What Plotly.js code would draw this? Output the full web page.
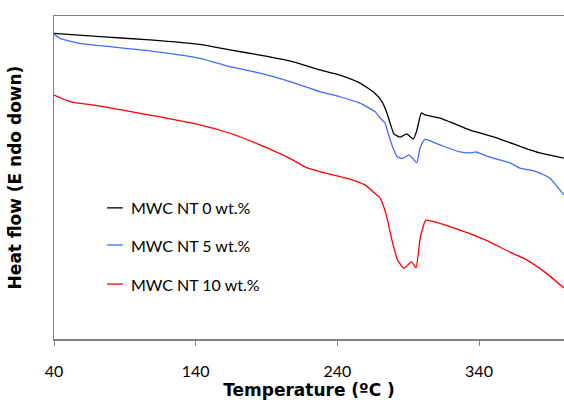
<!DOCTYPE html>
<html>
<head>
<meta charset="utf-8">
<script src="https://cdn.plot.ly/plotly-3.0.1.min.js"></script>
<style>html,body{margin:0;padding:0;background:#fff;}#chart{width:564px;height:403px;}</style>
</head>
<body>
<div id="chart"></div>
<script>
// Temperature (ºC) and heat flow (arbitrary units, endo down)
const tempBlack = [40, 72.5, 107.7, 143.0, 164.2, 185.4, 206.5, 227.7, 241.8, 256.0, 266.5, 271.5, 275.0, 277.5, 280.0, 284.5, 289.0, 293.6, 296.2, 299.3, 301.8, 312.4, 319.5, 333.6, 340.6, 354.8, 372.4, 383.0, 399.9];
const flowBlack = [94.6, 93.6, 92.6, 91.2, 89.5, 87.9, 86.1, 83.3, 81.7, 79.2, 76.1, 73.5, 70.0, 66.5, 63.5, 62.5, 63.5, 61.9, 64.7, 70.0, 69.4, 68.4, 67.2, 64.7, 63.8, 61.9, 59.1, 57.6, 56.0];

const tempBlue = [40, 44.2, 58.3, 72.5, 107.7, 143.0, 164.2, 185.4, 206.5, 227.7, 241.8, 256.0, 266.5, 270.1, 273.6, 276.0, 279.0, 282.1, 286.1, 290.7, 296.0, 298.3, 301.8, 312.4, 326.5, 333.6, 337.8, 347.7, 361.8, 368.9, 379.5, 390.0, 399.9];
const flowBlue = [94.4, 93.1, 91.5, 90.8, 89.2, 86.9, 84.3, 82.3, 79.7, 76.6, 75.0, 73.0, 70.4, 68.5, 66.9, 63.5, 59.5, 56.5, 55.9, 57.0, 54.6, 59.0, 61.8, 60.1, 57.9, 57.6, 57.9, 56.3, 54.5, 52.9, 52.0, 49.8, 44.6];

const tempRed = [40, 51.3, 72.5, 107.7, 143.0, 164.2, 185.4, 206.5, 217.1, 227.7, 248.9, 259.5, 266.5, 270.1, 274.3, 278.5, 282.5, 287.0, 292.4, 295.5, 298.3, 300.4, 302.5, 312.4, 319.5, 333.6, 337.1, 347.7, 361.8, 372.4, 386.5, 399.9];
const flowRed = [75.5, 73.5, 72.1, 69.3, 66.3, 63.7, 60.1, 55.9, 53.3, 51.8, 49.5, 47.7, 45.1, 43.7, 38.8, 30.7, 24.5, 21.9, 23.9, 22.0, 30.7, 34.5, 36.8, 35.8, 34.8, 32.6, 32.0, 30.0, 26.9, 24.8, 20.7, 15.8];

const seriesNames = ["MWC NT 0 wt.%", "MWC NT 5 wt.%", "MWC NT 10 wt.%"];
const seriesColors = ["#000000", "#3d6cff", "#ff0000"];
const xTicks = [40, 140, 240, 340];

const temps = [tempBlack, tempBlue, tempRed];
const flows = [flowBlack, flowBlue, flowRed];

const traces = temps.map((t, i) => ({
  x: t, y: flows[i], type: "scatter", mode: "lines", name: seriesNames[i],
  line: {color: seriesColors[i], width: 1.3, shape: "spline", smoothing: 0.5},
  showlegend: false, hoverinfo: "skip"
}));

// custom legend (inside the plot)
const legendY = [0.406, 0.291, 0.170];
const shapes = seriesNames.map((n, i) => ({
  type: "line", xref: "paper", yref: "paper",
  x0: 0.104, x1: 0.135, y0: legendY[i], y1: legendY[i],
  line: {color: seriesColors[i], width: 1.3}
}));
const annotations = seriesNames.map((n, i) => ({
  text: n, xref: "paper", yref: "paper", x: 0.147, y: legendY[i],
  xanchor: "left", yanchor: "middle", showarrow: false,
  font: {family: "Lato, 'Open Sans', sans-serif", size: 16, color: "#000"}
}));

const layout = {
  width: 564, height: 403,
  margin: {l: 54, r: 0, t: 16, b: 64},
  paper_bgcolor: "#fff", plot_bgcolor: "#fff",
  xaxis: {
    range: [40, 400], tickvals: xTicks, ticktext: xTicks.map(String),
    showgrid: false, zeroline: false, showline: true, mirror: true,
    linecolor: "#808080", linewidth: 1.5,
    ticks: "outside", ticklen: 5, tickcolor: "#808080",
    ticklabelstandoff: 12,
    tickfont: {family: "Lato, 'Open Sans', sans-serif", size: 16, color: "#000"},
    title: {text: "Temperature (ºC )", standoff: 3,
      font: {family: "'DejaVu Sans', sans-serif", size: 17, color: "#000", weight: "bold"}}
  },
  yaxis: {
    range: [0, 100], showticklabels: false, ticks: "",
    showgrid: false, zeroline: false, showline: true, mirror: true,
    linecolor: "#808080", linewidth: 1.5,
    title: {text: "Heat flow (E ndo down)", standoff: 26,
      font: {family: "'DejaVu Sans', sans-serif", size: 17, color: "#000", weight: "bold"}}
  },
  shapes: shapes, annotations: annotations, showlegend: false
};

Plotly.newPlot("chart", traces, layout, {staticPlot: true, displayModeBar: false});
</script>
</body>
</html>
